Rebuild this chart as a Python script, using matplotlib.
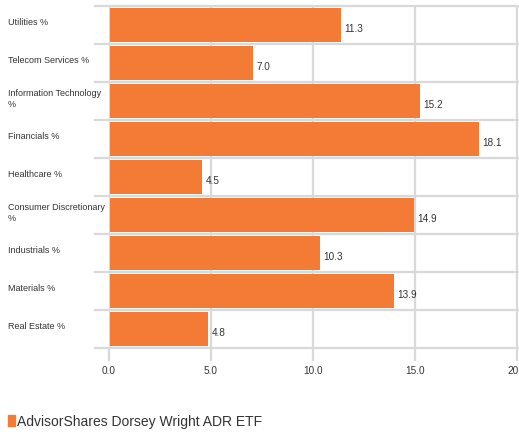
import matplotlib
matplotlib.use('Agg')
import matplotlib.pyplot as plt
from matplotlib.transforms import blended_transform_factory

categories = ['Utilities %', 'Telecom Services %', 'Information Technology\n%',
              'Financials %', 'Healthcare %', 'Consumer Discretionary\n%',
              'Industrials %', 'Materials %', 'Real Estate %']
values = [11.3, 7.0, 15.2, 18.1, 4.5, 14.9, 10.3, 13.9, 4.8]
xticks = [0, 5, 10, 15, 20]
series_name = 'AdvisorShares Dorsey Wright ADR ETF'

orange = '#F47B36'
grid = '#D9D9D9'
text_col = '#333333'
plt.rcParams['font.family'] = ['Liberation Sans', 'DejaVu Sans']

W, H = 519, 435
fig = plt.figure(figsize=(W / 100, H / 100), dpi=100)
ax = fig.add_axes([109 / W, 1 - 349 / H, 410 / W, 342 / H])

n = len(categories)
ypos = list(range(n))
ax.barh(ypos, values, height=0.87, color=orange, left=0.05, zorder=3)

ax.set_xlim(0, 20.1)
ax.set_ylim(n - 0.5, -0.5)

# grid lines
for x in xticks:
    ax.axvline(x, color=grid, lw=1.6, zorder=1)
for b in range(n + 1):
    ax.axhline(b - 0.5, xmin=-14 / 410, xmax=1, color=grid, lw=1.6,
               zorder=1, clip_on=False)

for s in ax.spines.values():
    s.set_visible(False)

ax.set_xticks(xticks)
ax.set_xticklabels([f'{x:.1f}' for x in xticks])
ax.tick_params(axis='x', length=9.5, width=1.6, color=grid, pad=3,
               labelsize=7.2, labelcolor=text_col)
ax.set_yticks([])

# value labels
for y, v in zip(ypos, values):
    ax.text(v + 0.22, y + 0.08, f'{v:.1f}', ha='left', va='center',
            fontsize=7.2, color=text_col, zorder=4)

# category labels
trans = blended_transform_factory(fig.transFigure, ax.transData)
for y, c in zip(ypos, categories):
    ax.text(8 / W, y - 0.08, c, transform=trans, ha='left', va='center',
            fontsize=6.5, color=text_col, linespacing=1.35)

# legend
fig.patches.append(plt.Rectangle((8 / W, 1 - 427 / H), 7 / W, 11 / H,
                                 transform=fig.transFigure, color=orange))
fig.text(17 / W, 1 - 422 / H, series_name, ha='left', va='center',
         fontsize=10, color=text_col)

fig.savefig('out.png', dpi=100)
